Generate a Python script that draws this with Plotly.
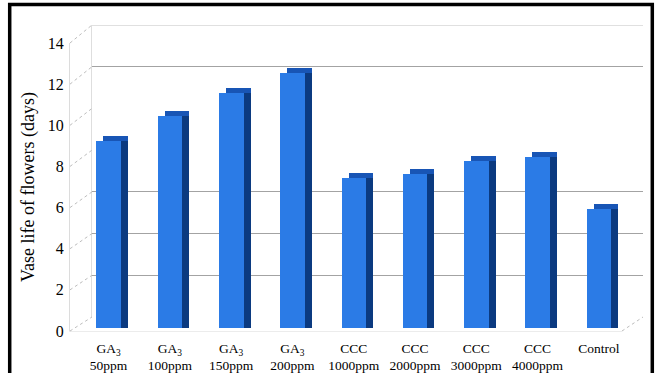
import plotly.graph_objects as go

# ---------------- data ----------------
categories = ["GA<sub>3</sub><br>50ppm", "GA<sub>3</sub><br>100ppm", "GA<sub>3</sub><br>150ppm",
              "GA<sub>3</sub><br>200ppm", "CCC<br>1000ppm", "CCC<br>2000ppm",
              "CCC<br>3000ppm", "CCC<br>4000ppm", "Control"]
vase_life = [9.1, 10.3, 11.4, 12.4, 7.3, 7.5, 8.1, 8.3, 5.8]
y_ticks = [0, 2, 4, 6, 8, 10, 12, 14]
back_grid = [2, 4, 6, 12]
y_title = "Vase life of flowers (days)"

# ---------------- geometry helpers ----------------
W, H = 657, 373
def px(x):
    return x / W
def py(y):
    return 1 - y / H

FONT = "Liberation Serif, Times New Roman, serif"
FRONT = "#2b7be6"
TOP = "#1855b5"
SIDE = "#0b3a80"
DX, DY = 7, 5          # depth offset of bar faces (px)
BAR_L, BAR_R = 77.85, 629.55
BAR_Y0, BAR_Y14 = 328.3, 40.3

fig = go.Figure()

# back wall subplot (gridlines)
fig.add_trace(go.Scatter(x=[0], y=[0], xaxis="x", yaxis="y", mode="markers",
                         marker=dict(opacity=0), showlegend=False, hoverinfo="skip"))
# front tick-label subplot
fig.add_trace(go.Scatter(x=[0], y=[0], xaxis="x2", yaxis="y2", mode="markers",
                         marker=dict(opacity=0), showlegend=False, hoverinfo="skip"))
# top face (shifted right and up)
fig.add_trace(go.Bar(x=categories, y=vase_life, xaxis="x3", yaxis="y3", width=0.40,
                     marker=dict(color=TOP, line=dict(width=0)), showlegend=False))
# side face (shifted right)
fig.add_trace(go.Bar(x=categories, y=vase_life, xaxis="x3", yaxis="y4", width=0.40,
                     marker=dict(color=SIDE, line=dict(width=0)), showlegend=False))
# front face
fig.add_trace(go.Bar(x=categories, y=vase_life, xaxis="x4", yaxis="y4", width=0.40,
                     marker=dict(color=FRONT, line=dict(width=0)), showlegend=False))

hidden = dict(visible=False)

fig.update_layout(
    width=W, height=H,
    margin=dict(l=0, r=0, t=0, b=0, pad=0, autoexpand=False),
    paper_bgcolor="white", plot_bgcolor="rgba(0,0,0,0)",
    bargap=0, showlegend=False,
    font=dict(family=FONT, color="black"),
    # back wall
    xaxis=dict(domain=[px(92), px(643)], range=[0, 1], showgrid=False, zeroline=False,
               showticklabels=False, ticks="", showline=False, anchor="y",
               automargin=False),
    yaxis=dict(domain=[py(317), py(25)], range=[0, 14], tickvals=back_grid,
               showgrid=True, gridcolor="#a3a3a3", gridwidth=1.2, zeroline=False,
               showticklabels=False, ticks="", showline=True, linecolor="#dedede",
               linewidth=1, anchor="x", automargin=False),
    # front tick labels
    xaxis2=dict(domain=[px(70), px(622)], range=[0, 1], showgrid=False, zeroline=False,
                showticklabels=False, ticks="", showline=True, linecolor="#ececec",
                anchor="y2", automargin=False),
    yaxis2=dict(domain=[py(331), py(43)], range=[0, 14], tickvals=y_ticks,
                showgrid=False, zeroline=False, ticks="", showline=True,
                linecolor="#dcdcdc", linewidth=1,
                tickfont=dict(family=FONT, size=16, color="black"),
                ticklabelstandoff=2, anchor="x2", automargin=False),
    # shifted bar axes
    xaxis3=dict(domain=[px(BAR_L + DX), px(BAR_R + DX)], type="category",
                range=[-0.5, 8.5], anchor="y3", automargin=False, **hidden),
    yaxis3=dict(domain=[py(BAR_Y0 - DY), py(BAR_Y14 - DY)], range=[0, 14],
                anchor="x3", automargin=False, **hidden),
    xaxis4=dict(domain=[px(BAR_L), px(BAR_R)], type="category", range=[-0.5, 8.5],
                showgrid=False, zeroline=False, showline=False, ticks="",
                tickfont=dict(family=FONT, size=13.5, color="black"),
                ticklabelstandoff=10, anchor="y4", automargin=False),
    yaxis4=dict(domain=[py(BAR_Y0), py(BAR_Y14)], range=[0, 14], anchor="x4",
                automargin=False, **hidden),
)

shapes = []
# dotted depth lines from front ticks to back wall
for v in y_ticks:
    yf = 331 - v * (331 - 43) / 14
    yb = 317 - v * (317 - 25) / 14
    shapes.append(dict(type="line", xref="paper", yref="paper",
                       x0=px(70), y0=py(yf), x1=px(92), y1=py(yb),
                       line=dict(color="#bdbdbd", width=1, dash="dot")))
shapes.append(dict(type="line", xref="paper", yref="paper",
                   x0=px(622), y0=py(331), x1=px(643), y1=py(317),
                   line=dict(color="#bdbdbd", width=1, dash="dot")))
# top edge of back wall
shapes.append(dict(type="line", xref="x", yref="y", x0=0, x1=1, y0=14, y1=14,
                   line=dict(color="#d6d6d6", width=1.5), layer="below"))
# outer black frame
shapes.append(dict(type="rect", xref="paper", yref="paper",
                   x0=px(9.7), y0=py(385), x1=px(652.3), y1=py(4.5),
                   line=dict(color="black", width=3.5)))
fig.update_layout(shapes=shapes)

fig.add_annotation(text=y_title, xref="paper", yref="paper", x=px(28), y=py(187),
                   textangle=-90, showarrow=False, xanchor="center", yanchor="middle",
                   font=dict(family=FONT, size=18, color="black"))

fig.write_html("out.html")
